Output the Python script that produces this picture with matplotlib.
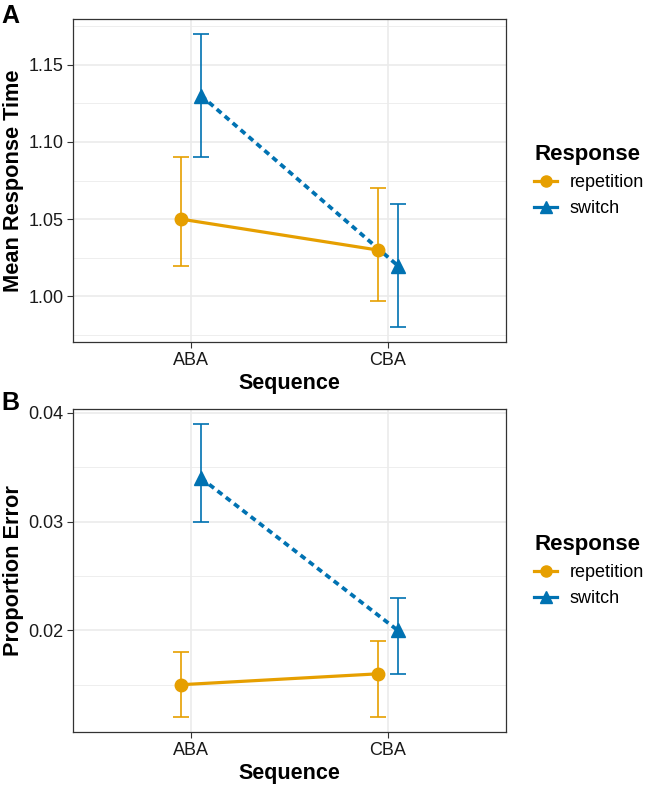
import matplotlib.pyplot as plt
from matplotlib.lines import Line2D

plt.rcParams['font.family'] = ['Liberation Sans', 'DejaVu Sans']

# --- data ---
sequences = ["ABA", "CBA"]
responses = ["repetition", "switch"]

rt_mean = {"repetition": [1.05, 1.03], "switch": [1.13, 1.02]}
rt_lo = {"repetition": [1.02, 0.997], "switch": [1.09, 0.98]}
rt_hi = {"repetition": [1.09, 1.07], "switch": [1.17, 1.06]}

err_mean = {"repetition": [0.015, 0.016], "switch": [0.034, 0.020]}
err_lo = {"repetition": [0.012, 0.012], "switch": [0.030, 0.016]}
err_hi = {"repetition": [0.018, 0.019], "switch": [0.039, 0.023]}

colors = {"repetition": "#E69F00", "switch": "#0072B2"}
markers = {"repetition": "o", "switch": "^"}
styles = {"repetition": "-", "switch": (0, (1.6, 1.2))}
msizes = {"repetition": 9, "switch": 10}
dodge = {"repetition": -0.05, "switch": 0.05}

fig = plt.figure(figsize=(6.48, 7.85), dpi=100)
axA = fig.add_axes([0.1127, 0.5643, 0.668, 0.4115])
axB = fig.add_axes([0.1127, 0.0675, 0.668, 0.4115])


def draw_panel(ax, mean, lo, hi, ylim, yticks, ylabels, minor, ylabel):
    ax.set_facecolor("white")
    for y in minor:
        ax.axhline(y, color="#EBEBEB", lw=0.6, zorder=0)
    for y in yticks:
        ax.axhline(y, color="#EBEBEB", lw=1.2, zorder=0)
    for x in [1, 2]:
        ax.axvline(x, color="#EBEBEB", lw=1.2, zorder=0)
    for r in responses:
        xs = [i + 1 + dodge[r] for i in range(len(sequences))]
        lw = 2.7 if r == "switch" else 2.3
        ax.plot(xs, mean[r], color=colors[r], ls=styles[r], lw=lw, zorder=2)
        yerr = [[m - l for m, l in zip(mean[r], lo[r])],
                [h - m for m, h in zip(mean[r], hi[r])]]
        ax.errorbar(xs, mean[r], yerr=yerr, fmt="none", ecolor=colors[r],
                    elinewidth=1.2, capsize=6, capthick=1.2, zorder=3)
        ax.plot(xs, mean[r], ls="none", marker=markers[r], color=colors[r],
                ms=msizes[r], zorder=4)
    ax.set_xlim(0.4, 2.6)
    ax.set_ylim(*ylim)
    ax.set_xticks([1, 2])
    ax.set_xticklabels(sequences)
    ax.set_yticks(yticks)
    ax.set_yticklabels(ylabels)
    ax.tick_params(axis="both", labelsize=13, colors="#333333", length=4,
                   width=0.8, labelcolor="#1a1a1a", pad=3)
    for s in ax.spines.values():
        s.set_color("#333333")
        s.set_linewidth(0.9)
    ax.set_xlabel("Sequence", fontsize=15.5, fontweight="bold", labelpad=3)
    ax.set_ylabel(ylabel, fontsize=15.7, fontweight="bold")
    ax.yaxis.set_label_coords(-0.114, 0.5)

    handles = [Line2D([], [], color=colors[r], ls="-", lw=2.3, marker=markers[r],
                      ms=msizes[r] - 1) for r in responses]
    leg = ax.legend(handles, responses, title="Response", loc="center left",
                    bbox_to_anchor=(1.028, 0.5), frameon=False, fontsize=13,
                    handlelength=1.25, handletextpad=0.7, labelspacing=0.5,
                    title_fontproperties={"weight": "bold", "size": 16})
    leg._legend_box.align = "left"


draw_panel(axA, rt_mean, rt_lo, rt_hi, (0.9705, 1.1795),
           [1.00, 1.05, 1.10, 1.15], ["1.00", "1.05", "1.10", "1.15"],
           [0.975, 1.025, 1.075, 1.125, 1.175], "Mean Response Time")
draw_panel(axB, err_mean, err_lo, err_hi, (0.01065, 0.04035),
           [0.02, 0.03, 0.04], ["0.02", "0.03", "0.04"],
           [0.015, 0.025, 0.035], "Proportion Error")

fig.text(0.002, 0.979, "A", fontsize=18, fontweight="bold", va="center")
fig.text(0.002, 0.487, "B", fontsize=18, fontweight="bold", va="center")

fig.savefig("out.png", dpi=100)
